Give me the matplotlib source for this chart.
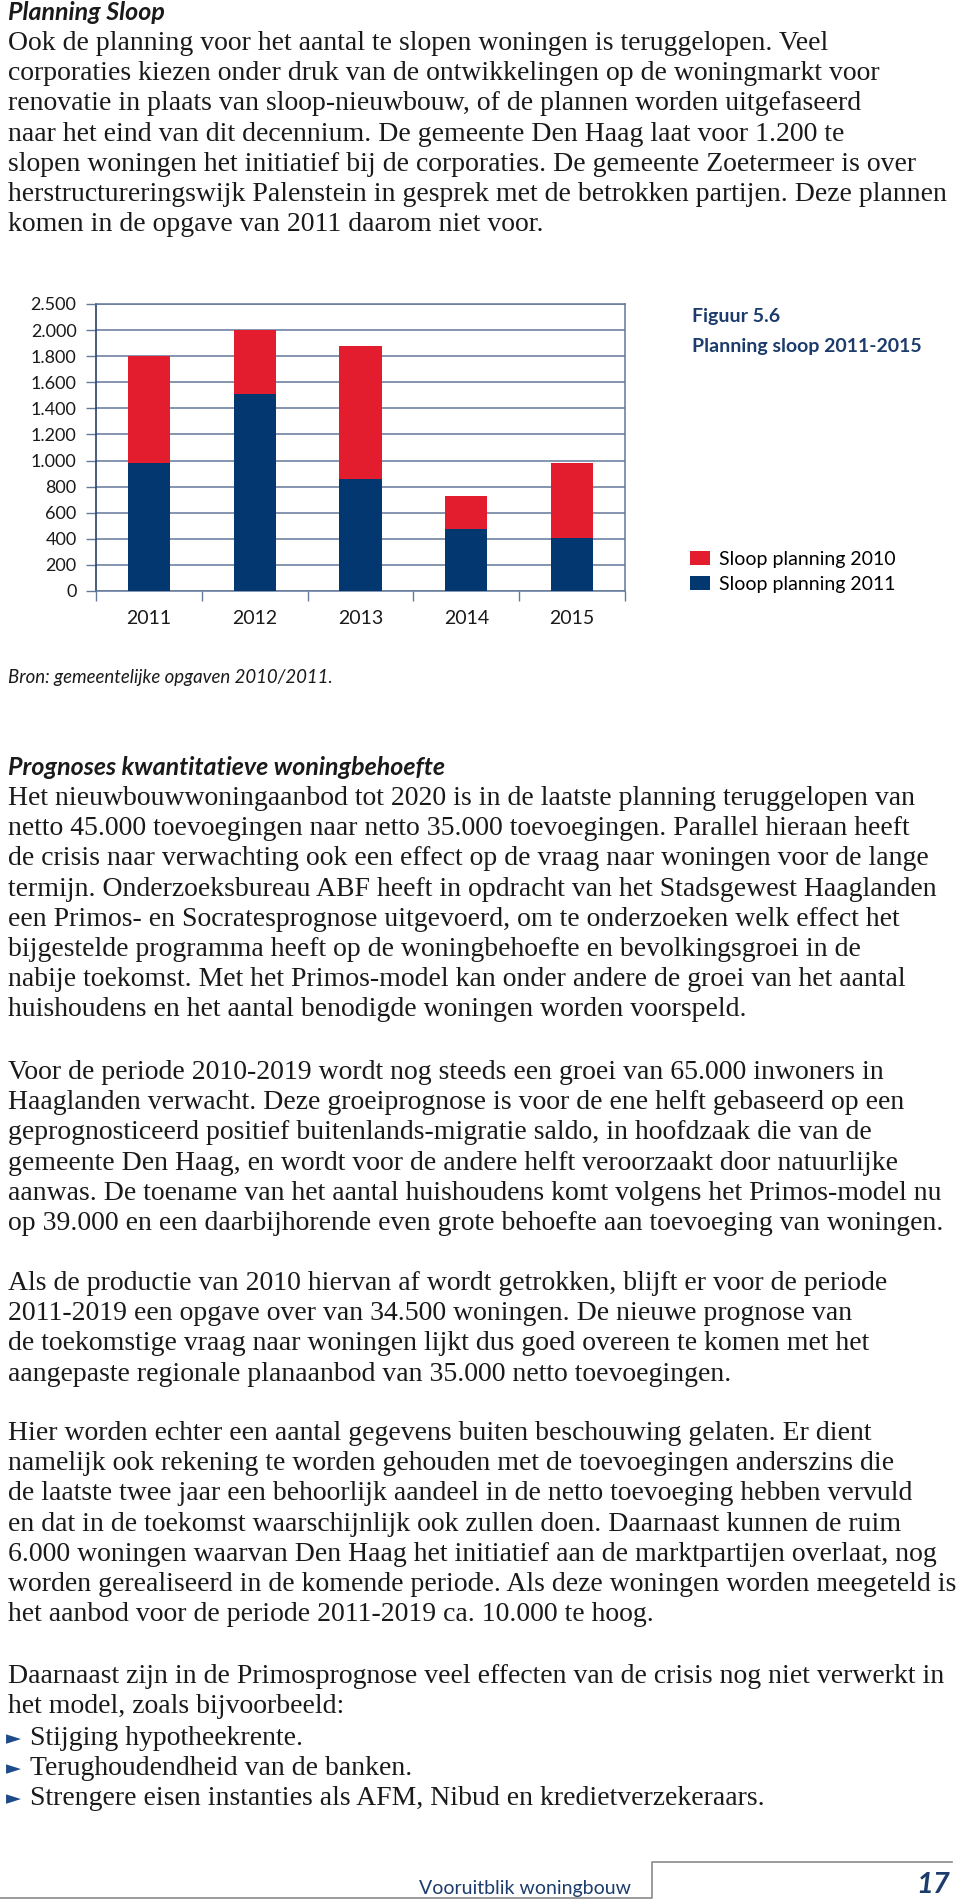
import numpy as np
import matplotlib
matplotlib.use('Agg')
import matplotlib.pyplot as plt
from matplotlib.lines import Line2D
from matplotlib.ticker import FixedLocator, FuncFormatter

# data
years = ['2011', '2012', '2013', '2014', '2015']
sloop_2010 = [1800, 2000, 1875, 730, 980]
sloop_2011 = [980, 1510, 855, 475, 410]
y_ticks = [0, 200, 400, 600, 800, 1000, 1200, 1400, 1600, 1800, 2000, 2500]

heading_1 = 'Planning Sloop'
para_1 = [
    'Ook de planning voor het aantal te slopen woningen is teruggelopen. Veel',
    'corporaties kiezen onder druk van de ontwikkelingen op de woningmarkt voor',
    'renovatie in plaats van sloop-nieuwbouw, of de plannen worden uitgefaseerd',
    'naar het eind van dit decennium. De gemeente Den Haag laat voor 1.200 te',
    'slopen woningen het initiatief bij de corporaties. De gemeente Zoetermeer is over',
    'herstructureringswijk Palenstein in gesprek met de betrokken partijen. Deze plannen',
    'komen in de opgave van 2011 daarom niet voor.',
]
source = 'Bron: gemeentelijke opgaven 2010/2011.'
heading_2 = 'Prognoses kwantitatieve woningbehoefte'
paragraphs = [
    ['Het nieuwbouwwoningaanbod tot 2020 is in de laatste planning teruggelopen van',
     'netto 45.000 toevoegingen naar netto 35.000 toevoegingen. Parallel hieraan heeft',
     'de crisis naar verwachting ook een effect op de vraag naar woningen voor de lange',
     'termijn. Onderzoeksbureau ABF heeft in opdracht van het Stadsgewest Haaglanden',
     'een Primos- en Socratesprognose uitgevoerd, om te onderzoeken welk effect het',
     'bijgestelde programma heeft op de woningbehoefte en bevolkingsgroei in de',
     'nabije toekomst. Met het Primos-model kan onder andere de groei van het aantal',
     'huishoudens en het aantal benodigde woningen worden voorspeld.'],
    ['Voor de periode 2010-2019 wordt nog steeds een groei van 65.000 inwoners in',
     'Haaglanden verwacht. Deze groeiprognose is voor de ene helft gebaseerd op een',
     'geprognosticeerd positief buitenlands-migratie saldo, in hoofdzaak die van de',
     'gemeente Den Haag, en wordt voor de andere helft veroorzaakt door natuurlijke',
     'aanwas. De toename van het aantal huishoudens komt volgens het Primos-model nu',
     'op 39.000 en een daarbijhorende even grote behoefte aan toevoeging van woningen.'],
    ['Als de productie van 2010 hiervan af wordt getrokken, blijft er voor de periode',
     '2011-2019 een opgave over van 34.500 woningen. De nieuwe prognose van',
     'de toekomstige vraag naar woningen lijkt dus goed overeen te komen met het',
     'aangepaste regionale planaanbod van 35.000 netto toevoegingen.'],
    ['Hier worden echter een aantal gegevens buiten beschouwing gelaten. Er dient',
     'namelijk ook rekening te worden gehouden met de toevoegingen anderszins die',
     'de laatste twee jaar een behoorlijk aandeel in de netto toevoeging hebben vervuld',
     'en dat in de toekomst waarschijnlijk ook zullen doen. Daarnaast kunnen de ruim',
     '6.000 woningen waarvan Den Haag het initiatief aan de marktpartijen overlaat, nog',
     'worden gerealiseerd in de komende periode. Als deze woningen worden meegeteld is',
     'het aanbod voor de periode 2011-2019 ca. 10.000 te hoog.'],
    ['Daarnaast zijn in de Primosprognose veel effecten van de crisis nog niet verwerkt in',
     'het model, zoals bijvoorbeeld:'],
]
bullets = ['Stijging hypotheekrente.',
           'Terughoudendheid van de banken.',
           'Strengere eisen instanties als AFM, Nibud en kredietverzekeraars.']
para_starts = [805, 1079, 1290, 1440, 1683]

W, H = 960, 1903
RED = '#e31c2e'
BLUE = '#03376f'
NAVY = '#1b3c6c'
GRID = '#64789a'
SERIF = ['Liberation Serif', 'DejaVu Serif']
SANS = ['Lato', 'DejaVu Sans']
BODY = 20
LINE = 30.2

fig = plt.figure(figsize=(W / 100, H / 100), dpi=100)
fig.patch.set_facecolor('white')


def fy(y):
    return 1 - y / H


def fx(x):
    return x / W


# top text
fig.text(fx(8), fy(20), heading_1, family=SANS, style='italic', weight='bold',
         fontsize=18, color='#1a1a1a', va='baseline')
for i, line in enumerate(para_1):
    fig.text(fx(8), fy(50 + i * LINE), line, family=SERIF, fontsize=BODY,
             color='#1a1a1a', va='baseline')

# chart
ax = fig.add_axes([fx(96), fy(591), fx(625) - fx(96), (591 - 304) / H])


def fwd(y):
    y = np.asarray(y, dtype=float)
    return np.where(y <= 2000, y, 2000 + (y - 2000) * 0.4)


def inv(t):
    t = np.asarray(t, dtype=float)
    return np.where(t <= 2000, t, 2000 + (t - 2000) / 0.4)


ax.set_yscale('function', functions=(fwd, inv))
x = np.arange(len(years))
b1 = ax.bar(x, sloop_2010, width=0.4, color=RED, zorder=2, label='Sloop planning 2010')
b2 = ax.bar(x, sloop_2011, width=0.4, color=BLUE, zorder=3, label='Sloop planning 2011')
ax.set_xlim(-0.5, len(years) - 0.5)
ax.set_ylim(0, 2500)
ax.yaxis.set_major_locator(FixedLocator(y_ticks))
ax.yaxis.set_major_formatter(FuncFormatter(lambda v, p: f'{int(v):,}'.replace(',', '.')))
ax.yaxis.set_minor_locator(FixedLocator([]))
ax.set_xticks(x)
ax.set_xticklabels(years)
ax.set_xticks(np.arange(-0.5, len(years)), minor=True)
ax.tick_params(axis='x', which='major', length=0, pad=14, labelsize=14, colors='#1a1a1a')
ax.tick_params(axis='x', which='minor', length=7, width=1, color=GRID, direction='out')
ax.tick_params(axis='y', which='major', length=7, width=1, color=GRID, direction='out',
               labelsize=13, labelcolor='#1a1a1a', pad=7)
for lab in ax.get_xticklabels() + ax.get_yticklabels():
    lab.set_family(SANS)
ax.yaxis.grid(True, color=GRID, lw=1.1, zorder=0)
ax.set_axisbelow(True)
for s in ['top', 'right', 'bottom']:
    ax.spines[s].set_color(GRID)
    ax.spines[s].set_linewidth(1.1)
ax.spines['left'].set_color('#2a4266')
ax.spines['left'].set_linewidth(1.2)

fig.text(fx(692), fy(322), 'Figuur 5.6', family=SANS, weight='bold', fontsize=14,
         color=NAVY, va='baseline')
fig.text(fx(692), fy(352), 'Planning sloop 2011-2015', family=SANS, weight='bold',
         fontsize=14, color=NAVY, va='baseline')
ax.legend(handles=[b1, b2], loc='upper left', bbox_to_anchor=(fx(690), fy(551)),
          bbox_transform=fig.transFigure, frameon=False, borderpad=0, borderaxespad=0,
          handlelength=1.05, handleheight=0.72, handletextpad=0.45, labelspacing=0.4,
          prop={'family': SANS, 'size': 14})

fig.text(fx(8), fy(683), source, family=SANS, style='italic', fontsize=13.4,
         color='#1a1a1a', va='baseline')

# second section
fig.text(fx(8), fy(775), heading_2, family=SANS, style='italic', weight='bold',
         fontsize=18, color='#1a1a1a', va='baseline')
for start, lines in zip(para_starts, paragraphs):
    for i, line in enumerate(lines):
        fig.text(fx(8), fy(start + i * LINE), line, family=SERIF, fontsize=BODY,
                 color='#1a1a1a', va='baseline')
b_start = para_starts[-1] + len(paragraphs[-1]) * LINE + 2
for i, item in enumerate(bullets):
    y = b_start + i * 30
    fig.text(fx(6), fy(y - 1), '\u25ba', family='DejaVu Sans', fontsize=14,
             color='#1d4a8a', va='baseline')
    fig.text(fx(30), fy(y), item, family=SERIF, fontsize=BODY, color='#1a1a1a',
             va='baseline')

# footer
fig.add_artist(Line2D([0, fx(652), fx(652), fx(952)], [fy(1898), fy(1898), fy(1862), fy(1862)],
                      transform=fig.transFigure, color='#8a8a8a', lw=1.2))
fig.text(fx(631), fy(1894), 'Vooruitblik woningbouw', family=SANS, fontsize=14,
         color=NAVY, ha='right', va='baseline')
fig.text(fx(950), fy(1893), '17', family=SANS, style='italic', weight='bold', fontsize=21,
         color=NAVY, ha='right', va='baseline')

fig.savefig('out.png', dpi=100)
